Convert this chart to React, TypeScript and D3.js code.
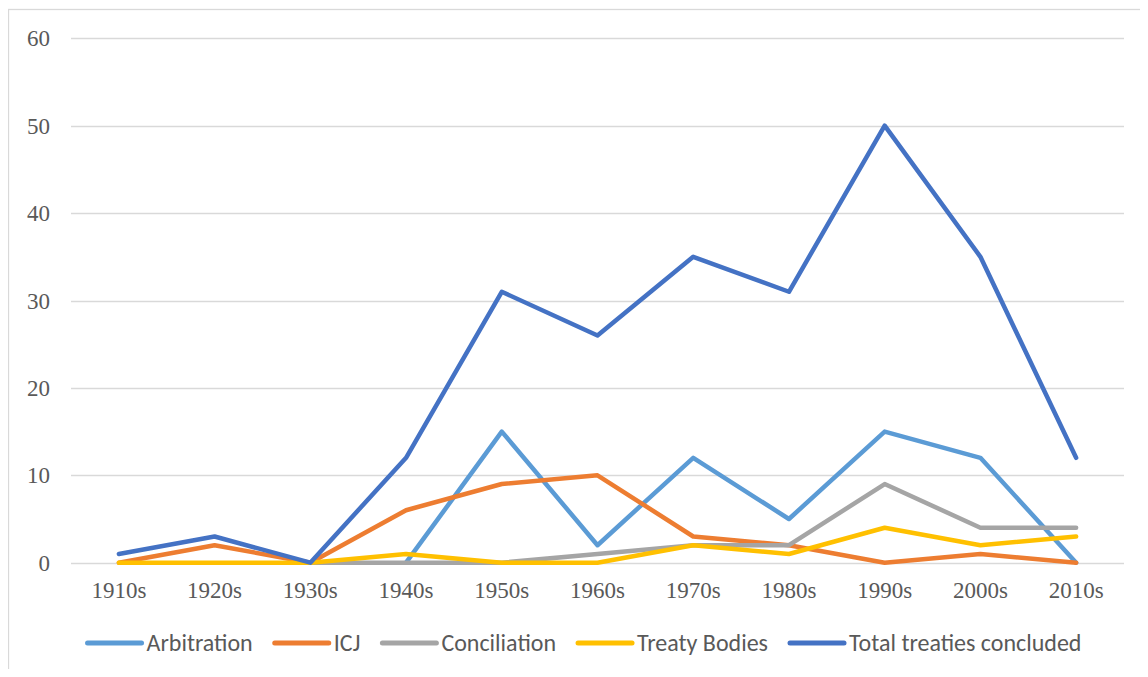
import React, { useLayoutEffect, useRef, useState } from "react";
import * as d3 from "d3";

const categories = ["1910s", "1920s", "1930s", "1940s", "1950s", "1960s", "1970s", "1980s", "1990s", "2000s", "2010s"];
const arbitration: (number | null)[] = [null, null, null, 0, 15, 2, 12, 5, 15, 12, 0];
const icj: (number | null)[] = [0, 2, 0, 6, 9, 10, 3, 2, 0, 1, 0];
const conciliation: (number | null)[] = [null, null, 0, 0, 0, 1, 2, 2, 9, 4, 4];
const treatyBodies: (number | null)[] = [0, 0, 0, 1, 0, 0, 2, 1, 4, 2, 3];
const totalTreaties: (number | null)[] = [1, 3, 0, 12, 31, 26, 35, 31, 50, 35, 12];
const yTicks = [0, 10, 20, 30, 40, 50, 60];

const seriesNames = ["Arbitration", "ICJ", "Conciliation", "Treaty Bodies", "Total treaties concluded"];
const seriesColors = ["#5B9BD5", "#ED7D31", "#A5A5A5", "#FFC000", "#4472C4"];
const seriesValues = [arbitration, icj, conciliation, treatyBodies, totalTreaties];

// page coordinates; the svg sits at the body's 8px margin
const OFF = 8;
const plotLeft = 71 - OFF;
const plotRight = 1124 - OFF;
const yTop = 38.3 - OFF;
const yBottom = 562.7 - OFF;

const x = d3.scaleBand<string>().domain(categories).range([plotLeft, plotRight]);
const cx = (c: string) => (x(c) as number) + x.bandwidth() / 2;
const y = d3.scaleLinear().domain([0, 60]).range([yBottom, yTop]);
const lineGen = d3
  .line<number | null>()
  .defined((d) => d !== null)
  .x((_, i) => cx(categories[i]))
  .y((d) => y(d as number));

const markerLen = 54;
const markerGap = 5;
const itemGap = 22;
const legendY = 643 - OFF;

export default function App() {
  const textRefs = useRef<(SVGTextElement | null)[]>([]);
  const [widths, setWidths] = useState<number[] | null>(null);

  useLayoutEffect(() => {
    setWidths(textRefs.current.map((t) => (t ? t.getComputedTextLength() : 0)));
  }, []);

  const itemWidths = seriesNames.map((_, i) => markerLen + markerGap + (widths ? widths[i] : 0));
  const totalW = itemWidths.reduce((s, w) => s + w, 0) + itemGap * (seriesNames.length - 1);
  const starts: number[] = [];
  let pos = (plotLeft + plotRight) / 2 - totalW / 2 - 13;
  itemWidths.forEach((w) => {
    starts.push(pos);
    pos += w + itemGap;
  });

  return (
    <svg width={1140} height={661} style={{ display: "block", overflow: "visible" }}>
      <rect x={0.5} y={1.5} width={1200} height={700} fill="white" stroke="#D9D9D9" strokeWidth={1.3} />
      {yTicks.map((t) => (
        <line
          key={`g${t}`}
          x1={plotLeft}
          x2={plotRight}
          y1={Math.round(y(t)) + 0.5}
          y2={Math.round(y(t)) + 0.5}
          stroke="#D9D9D9"
          strokeWidth={1.3}
        />
      ))}
      {yTicks.map((t) => (
        <text
          key={`y${t}`}
          x={50 - OFF}
          y={y(t) + 8}
          textAnchor="end"
          fill="#595959"
          style={{ fontFamily: '"Liberation Serif"', fontSize: 23 }}
        >
          {String(t)}
        </text>
      ))}
      {categories.map((c) => (
        <text
          key={c}
          x={cx(c)}
          y={598 - OFF}
          textAnchor="middle"
          fill="#595959"
          style={{ fontFamily: '"Liberation Serif"', fontSize: 23 }}
        >
          {c}
        </text>
      ))}
      {seriesValues.map((vals, i) => (
        <path
          key={seriesNames[i]}
          d={lineGen(vals) || ""}
          fill="none"
          stroke={seriesColors[i]}
          strokeWidth={4.5}
          strokeLinejoin="round"
          strokeLinecap="round"
        />
      ))}
      {seriesNames.map((name, i) => (
        <g key={`l${name}`} transform={`translate(${starts[i]},${legendY})`} opacity={widths ? 1 : 0}>
          <line x1={0} x2={markerLen} y1={0} y2={0} stroke={seriesColors[i]} strokeWidth={5} strokeLinecap="round" />
          <text
            ref={(el) => {
              textRefs.current[i] = el;
            }}
            x={markerLen + markerGap}
            y={8}
            fill="#595959"
            style={{ fontFamily: '"Carlito"', fontSize: 24 }}
          >
            {name}
          </text>
        </g>
      ))}
    </svg>
  );
}
